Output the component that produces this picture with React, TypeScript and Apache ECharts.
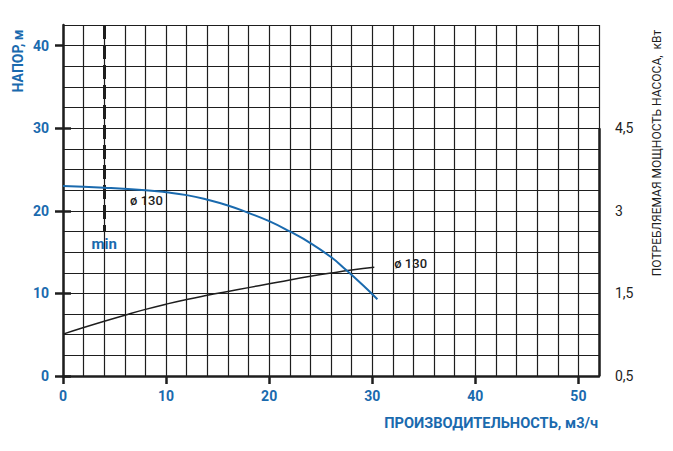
import React, { useEffect, useRef } from "react";
import * as echarts from "echarts";

const flowTicks = [0, 10, 20, 30, 40, 50];
const headTicks = [0, 10, 20, 30, 40];
const powerTicks = [0, 1.5, 3, 4.5];
const powerTickLabels = ["0,5", "1,5", "3", "4,5"];

const headQ = [0, 4, 8, 10, 12, 14, 16, 18, 20, 22, 24, 26, 27.5, 29, 30.5];
const headH = [23.0, 22.8, 22.5, 22.25, 21.9, 21.35, 20.65, 19.75, 18.75, 17.5, 16.1, 14.4, 12.8, 11.1, 9.3];

const powerQ = [0, 2, 4, 6, 8, 10, 12, 14, 16, 18, 20, 22, 24, 26, 28, 30.2];
const powerP = [0.76, 0.88, 0.995, 1.105, 1.21, 1.305, 1.39, 1.465, 1.535, 1.605, 1.675, 1.745, 1.81, 1.87, 1.925, 1.975];

const minFlow = 4;
const minLineBottom = 17.5;
const headMax = 42.5;
const powerMax = 6.375;
const flowMax = 52;
const flowGridStep = 2;
const headGridStep = 2.5;

const BLUE = "#1a6aae";
const INK = "#1e1e1e";
const FONT = "Roboto, 'DejaVu Sans', sans-serif";

export default function App() {
  const ref = useRef<HTMLDivElement>(null);
  useEffect(() => {
    if (!ref.current) return;
    const chart = echarts.init(ref.current, null, { renderer: "svg" });
    const gridLine = { show: true, lineStyle: { color: INK, width: 1.2 } };
    chart.setOption({
      animation: false,
      backgroundColor: "#ffffff",
      textStyle: { fontFamily: FONT },
      grid: { left: 63, right: 74, top: 25, bottom: 75, containLabel: false },
      xAxis: [
        {
          type: "value",
          position: "bottom",
          min: 0,
          max: flowMax,
          interval: flowGridStep,
          axisLine: { show: false },
          axisTick: { show: false },
          axisLabel: { show: false },
          splitLine: gridLine,
          z: 1,
        },
        {
          type: "value",
          position: "bottom",
          min: 0,
          max: flowMax,
          interval: 10,
          axisLine: { show: true, onZero: false, lineStyle: { color: INK, width: 2.5 } },
          axisTick: { show: true, customValues: flowTicks, length: 8, lineStyle: { color: INK, width: 2.5 } },
          axisLabel: {
            customValues: flowTicks,
            color: BLUE,
            fontWeight: "bold",
            fontSize: 14,
            margin: 13,
            fontFamily: FONT,
          },
          splitLine: { show: false },
          z: 3,
        },
      ],
      yAxis: [
        {
          type: "value",
          position: "left",
          min: 0,
          max: headMax,
          interval: headGridStep,
          axisLine: { show: false },
          axisTick: { show: false },
          axisLabel: { show: false },
          splitLine: gridLine,
          z: 1,
        },
        {
          type: "value",
          position: "left",
          min: 0,
          max: headMax,
          interval: 10,
          axisLine: { show: true, onZero: false, lineStyle: { color: INK, width: 2.5 } },
          axisTick: { show: true, customValues: headTicks, length: 8, lineStyle: { color: INK, width: 2.5 } },
          axisLabel: {
            customValues: headTicks,
            color: BLUE,
            fontWeight: "bold",
            fontSize: 14,
            margin: 14,
            fontFamily: FONT,
          },
          splitLine: { show: false },
          z: 3,
        },
        {
          type: "value",
          position: "right",
          min: 0,
          max: powerMax,
          interval: 1.5,
          axisLine: { show: false },
          axisTick: { show: true, customValues: powerTicks, length: 8, lineStyle: { color: INK, width: 2.5 } },
          axisLabel: {
            customValues: powerTicks,
            color: INK,
            fontSize: 14,
            margin: 16,
            fontFamily: FONT,
            formatter: (v: number) => {
              const i = powerTicks.indexOf(v);
              return i >= 0 ? powerTickLabels[i] : "";
            },
          },
          splitLine: { show: false },
        },
      ],
      series: [
        {
          type: "line",
          name: "head",
          xAxisIndex: 1,
          yAxisIndex: 1,
          smooth: 0.5,
          symbol: "none",
          data: headQ.map((q, i) => [q, headH[i]]),
          lineStyle: { color: BLUE, width: 2 },
          z: 5,
          markLine: {
            silent: true,
            symbol: "none",
            lineStyle: { color: INK, width: 3, type: [14, 6] },
            label: {
              show: true,
              position: "end",
              formatter: "min",
              color: BLUE,
              fontSize: 15,
              fontWeight: "bold",
              distance: 5,
              fontFamily: FONT,
            },
            data: [[{ coord: [minFlow, headMax] }, { coord: [minFlow, minLineBottom] }]],
          },
          markPoint: {
            silent: true,
            symbol: "circle",
            symbolSize: 0,
            label: {
              show: true,
              position: "inside",
              formatter: "ø 130",
              color: INK,
              fontSize: 13,
              fontWeight: 500,
              fontFamily: FONT,
            },
            data: [{ coord: [8.1, 21.2] }],
          },
        },
        {
          type: "line",
          name: "power",
          xAxisIndex: 1,
          yAxisIndex: 2,
          smooth: 0.5,
          symbol: "none",
          data: powerQ.map((q, i) => [q, powerP[i]]),
          lineStyle: { color: INK, width: 1.5 },
          z: 4,
          endLabel: {
            show: true,
            formatter: "ø 130",
            color: INK,
            fontSize: 13,
            fontWeight: 500,
            distance: 20,
            offset: [0, -4],
            fontFamily: FONT,
          },
          markLine: {
            silent: true,
            symbol: "none",
            lineStyle: { color: INK, width: 2.5, type: "solid" },
            label: { show: false },
            data: [[{ coord: [flowMax, 0] }, { coord: [flowMax, powerTicks[3]] }]],
          },
        },
      ],
      graphic: [
        {
          type: "text",
          x: 18,
          y: 61,
          rotation: Math.PI / 2,
          style: {
            text: "НАПОР, м",
            fill: BLUE,
            font: `bold 14px ${FONT}`,
            textAlign: "center",
            textVerticalAlign: "middle",
          },
        },
        {
          type: "text",
          x: 657,
          y: 153,
          rotation: Math.PI / 2,
          style: {
            text: "ПОТРЕБЛЯЕМАЯ МОЩНОСТЬ НАСОСА,  кВт",
            fill: INK,
            font: `12px ${FONT}`,
            textAlign: "center",
            textVerticalAlign: "middle",
          },
        },
        {
          type: "text",
          x: 598,
          y: 423,
          style: {
            text: "ПРОИЗВОДИТЕЛЬНОСТЬ, м3/ч",
            fill: BLUE,
            font: `bold 14.6px ${FONT}`,
            textAlign: "right",
            textVerticalAlign: "middle",
          },
        },
      ],
    });
    return () => chart.dispose();
  }, []);
  return (
    <div
      ref={ref}
      style={{ position: "absolute", left: 0, top: 0, width: 673, height: 451 }}
    />
  );
}
